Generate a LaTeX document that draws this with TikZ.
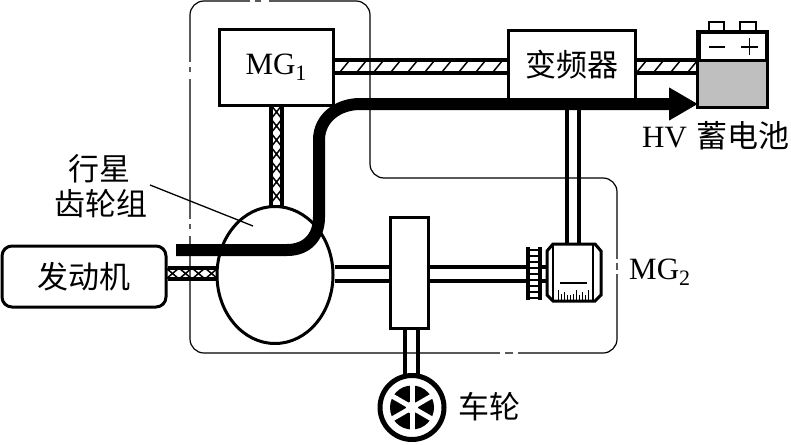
\documentclass[tikz,border=0pt]{standalone}
\usepackage{fontspec}
\setmainfont{Liberation Serif}
\newfontfamily\cjk{Noto Sans CJK SC}
\usetikzlibrary{arrows.meta,shapes.geometric}
\newcommand{\lowidx}[1]{\raisebox{-6pt}{\fontsize{22}{22}\selectfont #1}}
\tikzset{
  box/.style={draw, line width=3pt, fill=white, inner sep=0pt},
  shaft/.style={line width=3.2pt},
  hatch/.style={line width=1.5pt},
  border/.style={line width=1.2pt, rounded corners=14pt},
  label/.style={inner sep=0pt, font=\fontsize{31}{33}\selectfont},
}
\begin{document}
\begin{tikzpicture}[x=1pt, y=-1pt]
\useasboundingbox (0,0) rectangle (791,444);

\draw[border] (190,60) -- (190,1) -- (370,1) -- (370,178) -- (617,178) -- (617,353) -- (190,353) -- cycle;
\foreach \y/\h in {62/5, 72/7, 219/5, 229/7}
  \fill[white] (186,\y) rectangle (194,\y+\h);
\foreach \y/\h in {259/4, 270/4}
  \fill[white] (613,\y) rectangle (621,\y+\h);
\foreach \x/\w in {500/5, 513/5}
  \fill[white] (\x,349) rectangle (\x+\w,357);
\foreach \x/\w in {250/5, 261/8}
  \fill[white] (\x,0) rectangle (\x+\w,3);

% blocks
\node[box, minimum width=114pt, minimum height=76pt, label] (mgone) at (276,67.5) {MG\lowidx{1}};
\node[box, minimum width=127pt, minimum height=68pt, label] (inverter) at (571.5,65) {\cjk 变频器};
\node[box, rounded corners=10pt, minimum width=164pt, minimum height=61pt, label] (engine) at (84,276.5) {\cjk 发动机};
\node[box, minimum width=38pt, minimum height=111pt] (gearbox) at (409,272.5) {};
\node[draw, ellipse, line width=3pt, fill=white, minimum width=116pt, minimum height=137pt, inner sep=0pt] (planet) at (275,275) {};

% hatched links
\draw[shaft] (mgone.east |- 0,60) -- (inverter.west |- 0,60);
\draw[shaft] (mgone.east |- 0,73) -- (inverter.west |- 0,73);
\foreach \x in {340,357,...,500}
  \draw[hatch] (\x,72) -- (\x+9,61);
\draw[shaft] (inverter.east |- 0,60) -- (699,60);
\draw[shaft] (inverter.east |- 0,73) -- (699,73);
\foreach \x in {637,654,671,688}
  \draw[hatch] (\x,72) -- (\x+9,61);
\draw[shaft] (271,105) -- (271,207);
\draw[shaft] (282,105) -- (282,207);
\foreach \y in {105,119,...,190}
  \draw[hatch] (271,\y) -- (282,\y+14) (282,\y) -- (271,\y+14);
\draw[shaft] (engine.east |- 0,268) -- (217,268);
\draw[shaft] (engine.east |- 0,279) -- (217,279);
\foreach \x in {166,179,192,205}
  \draw[hatch] (\x,268) -- (\x+13,279) (\x+13,268) -- (\x,279);

% shafts
\draw[shaft] (planet.east |- 0,267) -- (gearbox.west |- 0,267);
\draw[shaft] (planet.east |- 0,281) -- (gearbox.west |- 0,281);
\draw[shaft] (gearbox.east |- 0,267) -- (546,267);
\draw[shaft] (gearbox.east |- 0,281) -- (546,281);
\draw[shaft] (405,328) -- (405,376);
\draw[shaft] (418,328) -- (418,376);
\draw[shaft] (567,99) -- (567,244);
\draw[shaft] (579,99) -- (579,244);

% gear and motor
\fill[white] (528,247) rectangle (540,300);
\draw[shaft] (528,247) -- (528,300) (540,247) -- (540,300);
\foreach \y in {250,256,...,298}
  \draw[hatch] (528,\y) -- (540,\y);
\draw[line width=3pt, fill=white] (553,244) -- (595,244) -- (601,251) -- (601,295) -- (595,301) -- (553,301) -- (547,295) -- (547,251) -- cycle;
\draw[line width=2.2pt] (553,244) -- (553,301) (593,244) -- (593,301);
\draw[line width=1.3pt] (560,283) -- (587,283);
\foreach \x/\h in {558/10,561/6,564/8,567/5,570/5,573/6,576/10,579/5,582/8,585/5,588/10}
  \draw[line width=1pt] (\x,300) -- (\x,300-\h);

% battery
\node[draw, line width=3pt, fill=white, minimum width=67pt, minimum height=73pt, inner sep=0pt] (battery) at (732.5,69.5) {};
\fill[gray!50] (battery.west |- 0,60) rectangle (battery.south east);
\draw[line width=3pt] (battery.west |- 0,60) -- (battery.east |- 0,60);
\draw[line width=3pt] (battery.north west) rectangle (battery.south east);
\draw[line width=2pt] (709,32) -- (709,22) -- (724,22) -- (724,32);
\draw[line width=2pt] (740,32) -- (740,22) -- (756,22) -- (756,32);
\draw[line width=1.1pt] (709,47) -- (725,47);
\draw[line width=1.3pt] (741,47) -- (758,47) (749.5,38) -- (749.5,55);

% power flow
\draw[line width=12pt, -{Triangle[length=29pt, width=31pt]}] (176,250) -- (287,250) .. controls (307,250) and (319,237) .. (319,217) -- (319,140) .. controls (319,118) and (338,104) .. (360,104) -- (698,104);

% wheel
\node[draw, circle, line width=5pt, fill=white, minimum size=64pt, inner sep=0pt] (wheel) at (412,407.5) {};
\fill (wheel.center) circle (22);
\foreach \a in {30,90,150}
  \draw[white, line width=5pt] (wheel.center) ++(\a:24) -- ++(\a:-48);
\fill[white] (wheel.center) circle (6);

% leader and labels
\draw[line width=1.3pt] (150,185) -- (253,226);
\node[label] (planetname) at (99,169) {\cjk 行星};
\node[label] (gearname) at (101,204) {\cjk 齿轮组};
\node[label, anchor=west] (batteryname) at (642,136) {HV\hspace{10pt}\cjk 蓄电池};
\node[label, anchor=west] (mgtwo) at (629,272) {MG\lowidx{2}};
\node[label, anchor=west] (wheelname) at (458,407) {\cjk 车轮};
\end{tikzpicture}
\end{document}
